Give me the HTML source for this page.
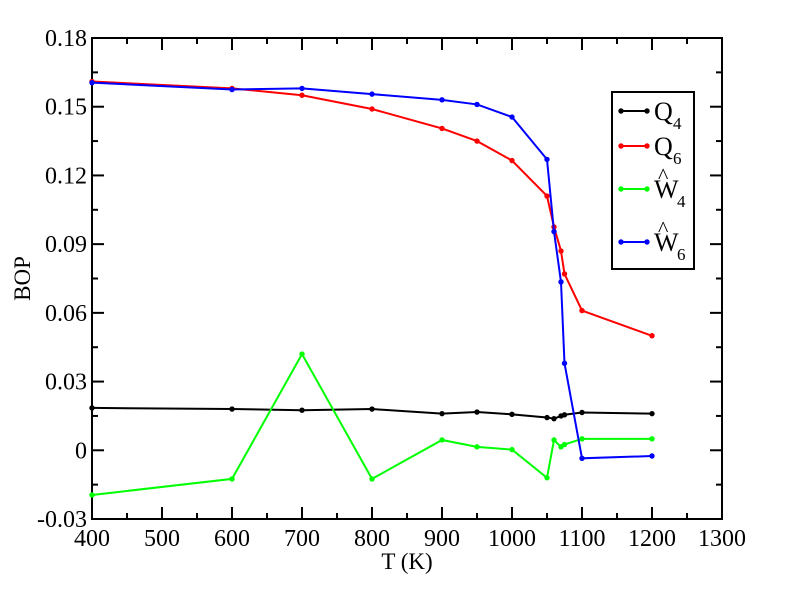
<!DOCTYPE html>
<html><head><meta charset="utf-8"><style>
body{margin:0;background:#fff}
svg{display:block;font-family:"Liberation Serif",serif}
</style></head><body>
<svg id="c" width="792" height="612"></svg>
<script>
const temps=[400,600,700,800,900,950,1000,1050,1060,1070,1075,1100,1200];
const q4=[0.0185,0.018,0.0175,0.018,0.016,0.0167,0.0157,0.0143,0.0138,0.015,0.0155,0.0165,0.016];
const q6=[0.161,0.158,0.155,0.149,0.1405,0.135,0.1265,0.111,0.0975,0.087,0.077,0.061,0.050];
const w4=[-0.0195,-0.0125,0.042,-0.0125,0.0045,0.0015,0.0003,-0.012,0.0045,0.0015,0.0025,0.005,0.005];
const w6=[0.1605,0.1575,0.158,0.1555,0.153,0.151,0.1455,0.127,0.0955,0.0735,0.038,-0.0035,-0.0025];
const xTicks=[400,500,600,700,800,900,1000,1100,1200,1300];
const yTicks=[-0.03,0,0.03,0.06,0.09,0.12,0.15,0.18];
const yLabels=["-0.03","0","0.03","0.06","0.09","0.12","0.15","0.18"];
const L=92,R=722,T=38,B=519;
const X=v=>L+(v-400)/900*(R-L);
const Y=v=>B-(v+0.03)/0.21*(B-T);
const svg=document.getElementById('c');const NS='http://www.w3.org/2000/svg';
function mk(t,a,p){const e=document.createElementNS(NS,t);for(const k in a)e.setAttribute(k,a[k]);(p||svg).appendChild(e);return e;}
let g=mk('g',{});


let fr=mk('rect',{x:L,y:T,width:R-L,height:B-T,fill:'none',stroke:'#000','stroke-width':2},g);


for(let v=400;v<=1300;v+=50){const x=X(v),len=(v%100===0)?12:6;
mk('line',{x1:x,y1:B,x2:x,y2:B-len,stroke:'#000','stroke-width':2},g);
mk('line',{x1:x,y1:T,x2:x,y2:T+len,stroke:'#000','stroke-width':2},g);}
for(let i=0;i<=14;i++){const v=-0.03+i*0.015,y=Y(v),len=(i%2===0)?12:6;
mk('line',{x1:L,y1:y,x2:L+len,y2:y,stroke:'#000','stroke-width':2},g);
mk('line',{x1:R,y1:y,x2:R-len,y2:y,stroke:'#000','stroke-width':2},g);}
xTicks.forEach(v=>{const t=mk('text',{x:X(v),y:B+27,'text-anchor':'middle','font-size':24},g);t.textContent=v;

});
yTicks.forEach((v,i)=>{const t=mk('text',{x:L-5,y:Y(v)+8,'text-anchor':'end','font-size':24},g);t.textContent=yLabels[i];

});
let xt=mk('text',{x:(L+R)/2,y:569,'text-anchor':'middle','font-size':23});xt.textContent='T (K)';


let yt=mk('text',{x:0,y:0,'text-anchor':'middle','font-size':23,transform:'translate(30,'+((T+B)/2)+') rotate(-90)'});yt.textContent='BOP';


function series(vals,col,name){const sg=mk('g',{});


mk('polyline',{points:vals.map((v,i)=>X(temps[i])+','+Y(v)).join(' '),fill:'none',stroke:col,'stroke-width':2},sg);
vals.forEach((v,i)=>{const p=mk('circle',{cx:X(temps[i]),cy:Y(v),r:2.7,fill:col},sg);

});}
series(q4,'#000','series-q4');series(w4,'#0f0','series-w4');series(q6,'#f00','series-q6');series(w6,'#00f','series-w6');
const lg=mk('g',{});


mk('rect',{x:612,y:92,width:82,height:177,fill:'#fff',stroke:'#000','stroke-width':2},lg);
const ent=[['#000','Q','4',111],['#f00','Q','6',146],['#0f0','W','4',189],['#00f','W','6',242]];
ent.forEach((e,i)=>{const eg=mk('g',{},lg);


const y=e[3];mk('line',{x1:621,y1:y,x2:647,y2:y,stroke:e[0],'stroke-width':2},eg);
mk('circle',{cx:621,cy:y,r:2.7,fill:e[0]},eg);mk('circle',{cx:647,cy:y,r:2.7,fill:e[0]},eg);
const t=mk('text',{x:654,y:y+9,'font-size':26},eg);t.textContent=e[1];
const s=mk('text',{x:e[1]==='Q'?673:677,y:y+18,'font-size':17},eg);s.textContent=e[2];
if(i>=2){const h=mk('text',{x:658,y:y-6,'font-size':22},eg);h.textContent='^';}});
</script>
</body></html>
